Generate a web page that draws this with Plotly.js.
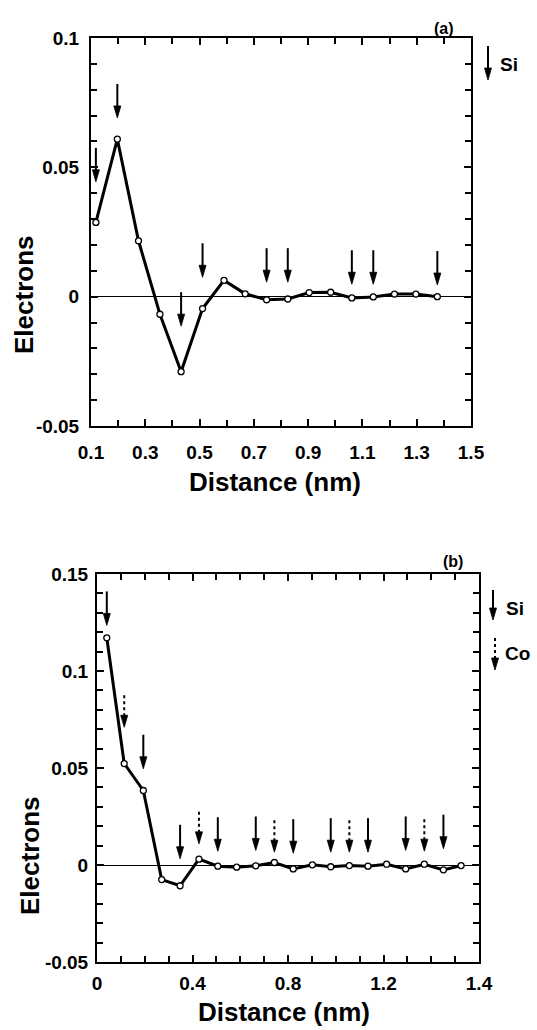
<!DOCTYPE html>
<html>
<head>
<meta charset="utf-8">
<script src="https://cdn.plot.ly/plotly-3.0.1.min.js"></script>
<style>
  html, body { margin: 0; padding: 0; background: #fff; }
  #chart { width: 537px; height: 1030px; }
</style>
</head>
<body>
<div id="chart"></div>
<script>
// ---- Panel (a): Si only ----
const distA = [0.118, 0.197, 0.275, 0.354, 0.432, 0.511, 0.590, 0.668, 0.747,
               0.825, 0.904, 0.983, 1.061, 1.140, 1.218, 1.297, 1.376];
const electronsA = [0.0287, 0.0609, 0.0216, -0.0068, -0.0290, -0.0046, 0.0063, 0.0011, -0.0012,
                    -0.0009, 0.0016, 0.0017, -0.0005, -0.0001, 0.0010, 0.0010, 0.0000];
// Si sites: x position and the height of the arrow tip
const siPosA = [0.118, 0.197, 0.432, 0.511, 0.747, 0.825, 1.061, 1.140, 1.376];
const siTipA = [0.0444, 0.0691, -0.0114, 0.0075, 0.0056, 0.0056, 0.0048, 0.0048, 0.0045];

// ---- Panel (b): Si and Co ----
const distB = [0.041, 0.114, 0.194, 0.271, 0.348, 0.427, 0.506, 0.585, 0.665, 0.743,
               0.822, 0.902, 0.979, 1.057, 1.135, 1.213, 1.293, 1.371, 1.451, 1.525];
const electronsB = [0.1171, 0.0523, 0.0384, -0.0075, -0.0107, 0.0030, -0.0006, -0.0011, -0.0004, 0.0013,
                    -0.0020, 0.0001, -0.0009, -0.0003, -0.0006, 0.0004, -0.0020, 0.0004, -0.0025, -0.0003];
const siPosB = [0.041, 0.194, 0.348, 0.506, 0.665, 0.822, 0.979, 1.135, 1.293, 1.451];
const siTipB = [0.1235, 0.0496, 0.0032, 0.0071, 0.0075, 0.0061, 0.0066, 0.0066, 0.0075, 0.0084];
const coPosB = [0.114, 0.427, 0.743, 1.057, 1.371];
const coTipB = [0.0710, 0.0109, 0.0066, 0.0066, 0.0071];

// ---- Tick labels ----
const xTickValsA = [0.1, 0.3, 0.5, 0.7, 0.9, 1.1, 1.3, 1.5];
const xTickTextA = ['0.1', '0.3', '0.5', '0.7', '0.9', '1.1', '1.3', '1.5'];
const yTickValsA = [-0.05, 0, 0.05, 0.1];
const yTickTextA = ['-0.05', '0', '0.05', '0.1'];
const xTickValsB = [0, 0.4, 0.8, 1.2, 1.6];
const xTickTextB = ['0', '0.4', '0.8', '1.2', '1.4'];
const yTickValsB = [-0.05, 0, 0.05, 0.1, 0.15];
const yTickTextB = ['-0.05', '0', '0.05', '0.1', '0.15'];

const W = 537, H = 1030;
const FONT = 'Liberation Sans, Arial, Helvetica, sans-serif';
const px = v => v / W;          // horizontal pixel -> paper
const py = v => 1 - v / H;      // vertical pixel -> paper

const lineTrace = (x, y, xa, ya) => ({
  x, y, xaxis: xa, yaxis: ya, type: 'scatter', mode: 'lines+markers',
  line: { color: '#000', width: 3 },
  marker: { symbol: 'circle', size: 6, color: '#fff', line: { color: '#000', width: 1.3 } },
  hoverinfo: 'x+y', showlegend: false
});

const minorTicks = (tick0, dtick) => ({
  tickmode: 'linear', tick0, dtick, ticks: 'inside',
  ticklen: 6, tickwidth: 2, tickcolor: '#000', showgrid: false
});

const axisCommon = {
  showline: true, linecolor: '#000', linewidth: 2, mirror: 'allticks',
  ticks: 'inside', ticklen: 7, tickwidth: 2, tickcolor: '#000',
  showgrid: false, zeroline: false,
  tickfont: { family: FONT, size: 19, color: '#000', weight: 'bold' },
  tickmode: 'array', fixedrange: true
};

// Arrow built from a shaft and a filled head, sized in pixels around its tip
const HEAD = 'M-3.5,12 L3.5,12 L0,0 Z';
function arrowShapes(xref, yref, x, tip, dotted, len) {
  const L = len || 34;
  return [
    { type: 'line', xref, yref, xsizemode: 'pixel', ysizemode: 'pixel',
      xanchor: x, yanchor: tip, x0: 0, x1: 0, y0: 11, y1: L,
      line: { color: '#000', width: 2, dash: dotted ? 'dot' : 'solid' } },
    { type: 'path', xref, yref, xsizemode: 'pixel', ysizemode: 'pixel',
      xanchor: x, yanchor: tip, path: HEAD,
      fillcolor: '#000', line: { color: '#000', width: 0.8 } }
  ];
}

const shapes = [];
siPosA.forEach((x, i) => shapes.push(...arrowShapes('x', 'y', x, siTipA[i], false)));
siPosB.forEach((x, i) => shapes.push(...arrowShapes('x2', 'y2', x, siTipB[i], false)));
coPosB.forEach((x, i) => shapes.push(...arrowShapes('x2', 'y2', x, coTipB[i], true)));
// key arrows at the right of each panel
shapes.push(...arrowShapes('paper', 'paper', px(488), py(80), false, 34));
shapes.push(...arrowShapes('paper', 'paper', px(493), py(620), false, 30));
shapes.push(...arrowShapes('paper', 'paper', px(495), py(670), true, 32));

const txt = (text, x, y, size, extra) => Object.assign({
  text, x, y, xref: 'paper', yref: 'paper', showarrow: false,
  xanchor: 'center', yanchor: 'middle',
  font: { family: FONT, size, color: '#000', weight: 'bold' }
}, extra || {});

const annotations = [
  txt('(a)', px(444), py(28), 16),
  txt('(b)', px(453), py(561), 16),
  txt('Si', px(509), py(65), 19),
  txt('Si', px(515), py(608), 19),
  txt('Co', px(517), py(653), 19),
  txt('Distance (nm)', px(275), py(482), 26),
  txt('Distance (nm)', px(284), py(1012), 26),
  txt('Electrons', px(24), py(295), 26, { textangle: -90 }),
  txt('Electrons', px(30), py(855), 26, { textangle: -90 })
];

const layout = {
  width: W, height: H,
  margin: { l: 0, r: 0, t: 0, b: 0 },
  paper_bgcolor: '#fff', plot_bgcolor: '#fff',
  font: { family: FONT, color: '#000' },
  showlegend: false,
  xaxis: Object.assign({}, axisCommon, {
    domain: [px(91), px(471)], range: [0.1, 1.5], anchor: 'y',
    tickvals: xTickValsA, ticktext: xTickTextA, ticklabelstandoff: 8,
    minor: minorTicks(0.1, 0.1)
  }),
  yaxis: Object.assign({}, axisCommon, {
    domain: [py(426), py(38)], range: [-0.05, 0.1], anchor: 'x',
    tickvals: yTickValsA, ticktext: yTickTextA, ticklabelstandoff: 6,
    zeroline: true, zerolinecolor: '#000', zerolinewidth: 1,
    minor: minorTicks(0, 0.01)
  }),
  xaxis2: Object.assign({}, axisCommon, {
    domain: [px(97), px(479)], range: [0, 1.6], anchor: 'y2',
    tickvals: xTickValsB, ticktext: xTickTextB, ticklabelstandoff: 3,
    minor: minorTicks(0, 0.1)
  }),
  yaxis2: Object.assign({}, axisCommon, {
    domain: [py(962), py(574)], range: [-0.05, 0.15], anchor: 'x2',
    tickvals: yTickValsB, ticktext: yTickTextB, ticklabelstandoff: 3,
    zeroline: true, zerolinecolor: '#000', zerolinewidth: 1,
    minor: minorTicks(0, 0.01)
  }),
  shapes, annotations
};

Plotly.newPlot('chart', [
  lineTrace(distA, electronsA, 'x', 'y'),
  lineTrace(distB, electronsB, 'x2', 'y2')
], layout, { displayModeBar: false, staticPlot: true });
</script>
</body>
</html>
